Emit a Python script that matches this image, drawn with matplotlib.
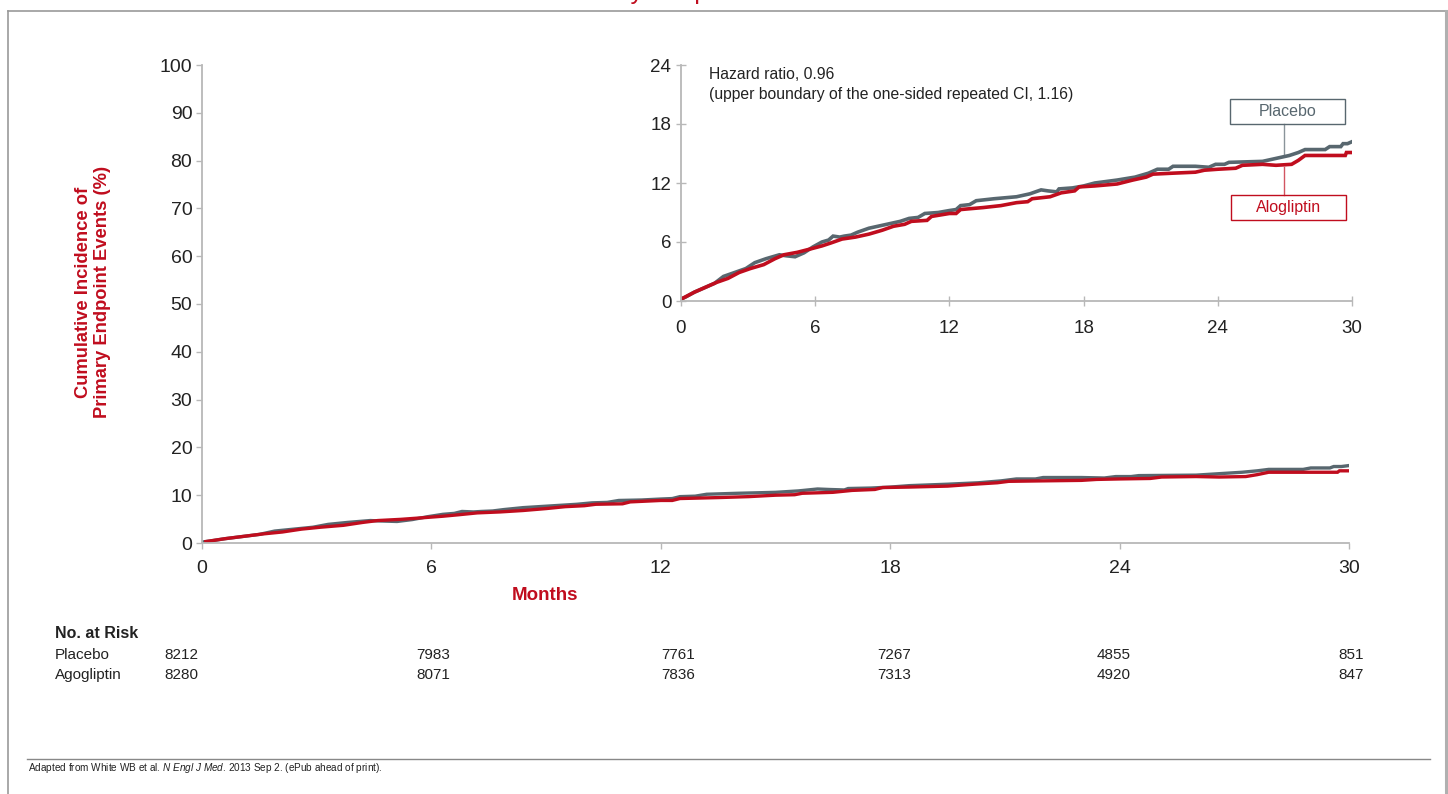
import matplotlib.pyplot as plt
import matplotlib.patches as patches
from matplotlib.lines import Line2D
import matplotlib.transforms as mtransforms

plt.rcParams['font.family'] = ['Liberation Sans', 'DejaVu Sans']
plt.rcParams['mathtext.fontset'] = 'custom'
plt.rcParams['mathtext.rm'] = 'Liberation Sans'
plt.rcParams['mathtext.it'] = 'Liberation Sans:italic'

# Kaplan-Meier style cumulative incidence (%), read by month
placebo_t = [0, 0.2, 0.6, 1.0, 1.5, 1.9, 2.4, 2.9, 3.3, 3.8, 4.4, 4.7, 5.1, 5.5, 5.9,
             6.3, 6.6, 6.8, 7.1, 7.3, 7.6, 7.9, 8.4, 9.0, 9.8, 10.2, 10.6, 10.9, 11.5,
             12.0, 12.3, 12.5, 12.9, 13.2, 14.0, 15.0, 15.6, 16.1, 16.4, 16.8, 16.9,
             17.5, 18.0, 18.5, 19.5, 20.3, 20.9, 21.3, 21.8, 22.0, 23.0, 23.6, 23.9,
             24.3, 24.5, 26.0, 26.6, 27.2, 27.6, 27.9, 28.5, 28.8, 29.0, 29.5, 29.6,
             29.8, 30.0]
placebo_v = [0.2, 0.4, 0.9, 1.3, 1.8, 2.5, 2.9, 3.3, 3.9, 4.3, 4.7, 4.6, 4.5, 4.9, 5.5,
             6.0, 6.2, 6.6, 6.5, 6.6, 6.7, 7.0, 7.4, 7.7, 8.1, 8.4, 8.5, 8.9, 9.0,
             9.2, 9.3, 9.7, 9.8, 10.2, 10.4, 10.6, 10.9, 11.3, 11.2, 11.1, 11.4,
             11.5, 11.7, 12.0, 12.3, 12.6, 13.0, 13.4, 13.4, 13.7, 13.7, 13.6, 13.9,
             13.9, 14.1, 14.2, 14.5, 14.8, 15.1, 15.4, 15.4, 15.4, 15.7, 15.7, 16.0,
             16.0, 16.2]

alo_t = [0.1, 0.6, 1.0, 1.6, 2.1, 2.6, 3.1, 3.7, 4.2, 4.6, 5.2, 5.8, 6.3, 6.7, 7.2,
         7.8, 8.4, 9.0, 9.5, 10.0, 10.3, 11.0, 11.2, 12.0, 12.3, 12.5, 13.5, 14.3,
         15.0, 15.5, 15.7, 16.5, 17.0, 17.6, 17.8, 18.5, 19.5, 20.2, 20.8, 21.1,
         22.0, 23.0, 23.4, 24.0, 24.8, 25.1, 26.0, 26.6, 27.3, 27.6, 27.9, 29.0,
         29.7, 29.75, 30.0]
alo_v = [0.3, 0.9, 1.3, 1.9, 2.3, 2.9, 3.3, 3.7, 4.3, 4.7, 4.95, 5.3, 5.6, 5.9, 6.3,
         6.5, 6.8, 7.2, 7.6, 7.8, 8.1, 8.2, 8.6, 8.9, 8.9, 9.3, 9.5, 9.7,
         10.0, 10.1, 10.4, 10.6, 11.0, 11.2, 11.6, 11.7, 11.9, 12.3, 12.6, 12.9,
         13.0, 13.1, 13.3, 13.4, 13.5, 13.8, 13.9, 13.8, 13.9, 14.3, 14.8, 14.8,
         14.8, 15.1, 15.1]

months = [0, 6, 12, 18, 24, 30]
risk_placebo = ['8212', '7983', '7761', '7267', '4855', '851']
risk_alo = ['8280', '8071', '7836', '7313', '4920', '847']

GRAY = '#58676f'
RED = '#c00d1e'
AXIS = '#b8b8b8'
TEXT = '#222222'

fig = plt.figure(figsize=(14.48, 7.94), dpi=100)
W, H = 1448, 794


def fx(px):
    return px / W


def fy(py):
    return 1 - py / H


def style_axes(a, ymax, ystep, direction, size, length, xpad, ypad):
    for s in ['top', 'right']:
        a.spines[s].set_visible(False)
    for s in ['left', 'bottom']:
        a.spines[s].set_color(AXIS)
        a.spines[s].set_linewidth(1.3)
    a.set_xlim(0, 30)
    a.set_ylim(0, ymax)
    a.set_xticks(months)
    a.set_yticks(range(0, ymax + 1, ystep))
    a.tick_params(colors=AXIS, labelcolor=TEXT, labelsize=size, length=length,
                  width=1, direction=direction)
    a.tick_params(axis='x', pad=xpad)
    a.tick_params(axis='y', pad=ypad)
    a.patch.set_visible(False)


# main plot
ax = fig.add_axes([fx(202), fy(543), fx(1349 - 202), (543 - 65) / H])
style_axes(ax, 100, 10, 'out', 14, 4, 8, 3)
ax.plot(placebo_t, placebo_v, color=GRAY, lw=2.4, solid_joinstyle='miter')
ax.plot(alo_t, alo_v, color=RED, lw=2.4, solid_joinstyle='miter')

# zoomed inset
ins = fig.add_axes([fx(681), fy(301), fx(1352 - 681), (301 - 65) / H])
style_axes(ins, 24, 6, 'inout', 13.5, 7, 10, 3.5)
ins.plot(placebo_t, placebo_v, color=GRAY, lw=2.6, solid_joinstyle='miter')
ins.plot(alo_t, alo_v, color=RED, lw=2.6, solid_joinstyle='miter')

ins.text(1.25, 23.8, 'Hazard ratio, 0.96\n(upper boundary of the one-sided repeated CI, 1.16)',
         fontsize=11.3, color=TEXT, va='top', ha='left', linespacing=1.4)

# series labels with connectors
ins.add_patch(patches.Rectangle((24.55, 18.0), 5.15, 2.55, facecolor='white',
                                edgecolor=GRAY, lw=1, clip_on=False))
ins.text(27.1, 19.28, 'Placebo', color=GRAY, fontsize=11.5, ha='center', va='center')
ins.plot([26.95, 26.95], [18.0, 14.9], color=GRAY, lw=1, alpha=0.7, clip_on=False)

ins.add_patch(patches.Rectangle((24.6, 8.25), 5.15, 2.55, facecolor='white',
                                edgecolor=RED, lw=1, clip_on=False))
ins.text(27.15, 9.52, 'Alogliptin', color=RED, fontsize=11.5, ha='center', va='center')
ins.plot([26.95, 26.95], [10.8, 13.6], color=RED, lw=1, alpha=0.7, clip_on=False)

# axis titles
fig.text(fx(93), fy(292), 'Cumulative Incidence of\nPrimary Endpoint Events (%)',
         rotation=90, color=RED, fontsize=13.2, fontweight='bold',
         ha='center', va='center', linespacing=1.1)
fig.text(fx(545), fy(596), 'Months', color=RED, fontsize=13.5, fontweight='bold',
         ha='center', va='center')

# numbers at risk table
fig.text(fx(55), fy(633), 'No. at Risk', fontsize=11.5, fontweight='bold',
         color=TEXT, va='center')
fig.text(fx(55), fy(655), 'Placebo', fontsize=11, color=TEXT, va='center')
fig.text(fx(55), fy(675), 'Agogliptin', fontsize=11, color=TEXT, va='center')
blend = mtransforms.blended_transform_factory(ax.transData, fig.transFigure)
nudge = [-0.55, 0.05, 0.45, 0.1, -0.15, 0.05]
for m, dx, p, a in zip(months, nudge, risk_placebo, risk_alo):
    ax.text(m + dx, fy(655), p, transform=blend, fontsize=11, color=TEXT,
            ha='center', va='center')
    ax.text(m + dx, fy(675), a, transform=blend, fontsize=11, color=TEXT,
            ha='center', va='center')

# slide frame, clipped title and footer
fig.add_artist(Line2D([fx(8), fx(1446)], [fy(11), fy(11)], color='#999999', lw=1.2))
fig.add_artist(Line2D([fx(8), fx(8)], [fy(11), 0], color='#999999', lw=1.2))
fig.add_artist(Line2D([fx(1446), fx(1446)], [fy(11), 0], color='#b0b0b0', lw=2.2))
fig.text(fx(653), 1 + 1.5 / H, 'Primary Endpoint', color=RED, fontsize=18,
         ha='center', va='baseline')
fig.add_artist(Line2D([fx(27), fx(1430)], [fy(759), fy(759)], color='#888888', lw=1))
fig.text(fx(28), fy(768), r'Adapted from White WB et al. $\mathit{N\ Engl\ J\ Med}$. '
         '2013 Sep 2. (ePub ahead of print).', fontsize=7.2, color=TEXT, va='center')

fig.savefig('out.png', dpi=100)
